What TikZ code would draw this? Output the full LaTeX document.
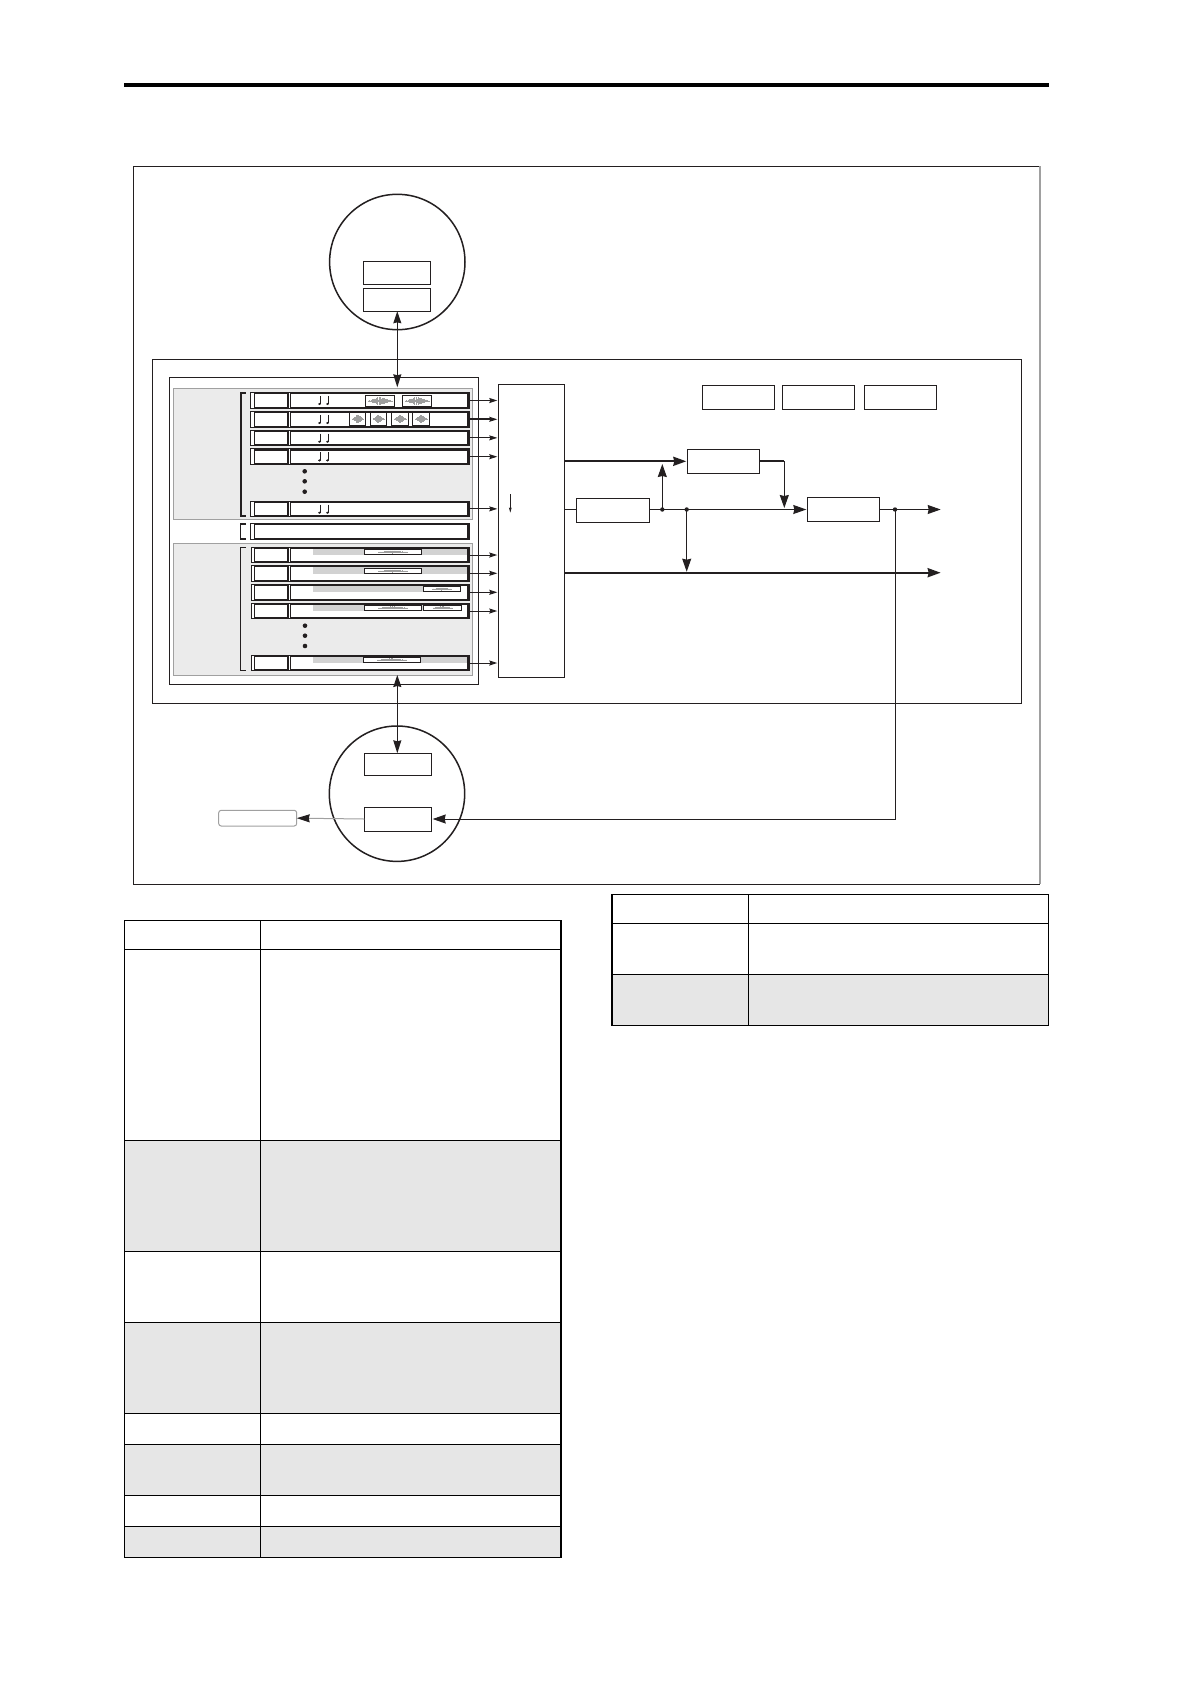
\documentclass[tikz,border=0pt]{standalone}
\usetikzlibrary{arrows.meta,calc}
\definecolor{ink}{HTML}{231F20}
\definecolor{panelfill}{HTML}{EBEBEB}
\definecolor{panelline}{HTML}{A0A0A0}
\definecolor{bandfill}{HTML}{D2D2D2}
\definecolor{rowfill}{HTML}{E6E6E6}
\newcommand\Bx[6]{%
  \pgfmathsetmacro\bw{#5-(#3)}\pgfmathsetmacro\bh{#6-(#4)}%
  \pgfmathsetmacro\bcx{(#3+#5)/2}\pgfmathsetmacro\bcy{(#4+#6)/2}%
  \node[#1,minimum width=\bw pt,minimum height=\bh pt] (#2) at (\bcx,\bcy) {};}
\newcommand\Wv[4]{%
  \draw[wavestroke] (#1-#3,#2) -- (#1+#3,#2);
  \foreach \i in {-16,...,16}{%
    \pgfmathsetmacro\ww{#4*(1-abs(\i)/17)*(0.35+0.65*abs(sin(\i*97+13)))}%
    \draw[wavestroke] (#1+\i*#3/16,#2-\ww) -- (#1+\i*#3/16,#2+\ww);}}
\newcommand\Nt[2]{%
  \draw[ink,line width=.8pt] (#1+1.4,#2+3.5) -- (#1+1.4,#2+11.5);
  \fill[ink] (#1+.2,#2+11.7) ellipse [x radius=1.5,y radius=1.1];}
\tikzset{
  boxbase/.style={rectangle,draw=ink,fill=white,inner sep=0pt,outer sep=0pt,line width=1pt},
  trkouter/.style={boxbase,line width=1pt},
  trkcell/.style={boxbase,line width=1.6pt},
  clipbox/.style={boxbase,line width=1pt},
  wavebox/.style={boxbase,line width=1pt},
  extbox/.style={boxbase,draw=panelline,rounded corners=2.5pt},
  panel/.style={draw=panelline,fill=panelfill,line width=1pt},
  frameline/.style={draw=ink,line width=1pt},
  wavestroke/.style={draw=black!38,line width=.5pt},
  thinline/.style={draw=ink,line width=1pt},
  thickline/.style={draw=ink,line width=2.2pt},
  smallarr/.style={thinline,-{Stealth[length=8pt,width=5pt,inset=1pt]},shorten >=1pt},
  bigarr/.style={thinline,-{Stealth[length=13pt,width=9pt,inset=1pt]},shorten >=1pt},
  bigarrthick/.style={thickline,-{Stealth[length=13pt,width=9pt,inset=1pt]},shorten >=1pt},
  dblarr/.style={thinline,{Stealth[length=12pt,width=8pt,inset=1pt]}-{Stealth[length=13pt,width=8pt,inset=1pt]}},
  junction/.style={circle,fill=ink,inner sep=0pt,minimum size=4.4pt},
  tdot/.style={circle,fill=ink,inner sep=0pt,minimum size=4.6pt},
  tabline/.style={draw=black,line width=1.2pt},
}
\begin{document}
\begin{tikzpicture}[x=1pt,y=-1pt]
\useasboundingbox (0,0) rectangle (1190,1684);
\fill[white] (0,0) rectangle (1190,1684);
% page rule
\fill[black] (124,83) rectangle (1049,87);
% outer frame
\draw[frameline] (1040,166.3) -- (133.3,166.3) -- (133.3,884.3) -- (1040,884.3);
\draw[panelline,line width=1.2pt] (1040,166.3) -- (1040,884.3);
% inner frame
\draw[frameline] (152.3,359.3) rectangle (1021,703.5);
\draw[frameline] (169.3,377.3) rectangle (478.3,684.3);
% panels
\draw[panel] (173.3,388.3) rectangle (472.7,519.3);
\draw[panel] (173.3,543.3) rectangle (472.7,675.7);
% brackets
\draw[ink,line width=2pt] (245.7,392.8) -- (240.5,392.8) -- (240.5,515.8) -- (245.7,515.8);
\draw[ink,line width=1.5pt] (246,524.2) -- (240.7,524.2) -- (240.7,538.8) -- (246,538.8);
\draw[ink,line width=1pt] (246,547.2) -- (240.7,547.2) -- (240.7,670.3) -- (246,670.3);
% upper tracks
\foreach \nm/\ya/\yb in {t1/392.3/408.7,t2/411.3/427.3,t3/430/445.7,t4/448.7/464.7,t5/501/516.7}{
  \Bx{trkouter}{\nm}{250.3}{\ya}{469.7}{\yb}
  \pgfmathsetmacro\yc{\ya+1}\pgfmathsetmacro\yd{\yb-1}
  \Bx{trkcell}{\nm L}{254.3}{\yc}{288}{\yd}
  \Bx{trkcell}{\nm R}{290.3}{\yc}{467.7}{\yd}
  \Nt{319.3}{\ya}
  \Nt{327.3}{\ya}
}
% middle track
\Bx{trkouter}{tm}{250.3}{523.3}{469.7}{539.7}
\Bx{trkcell}{tmc}{254.3}{524.3}{467.7}{538.7}
% lower tracks
\foreach \nm/\ya/\yb/\bb/\be in {l1/547.3/562.7/555/466.7,l2/565.3/581.3/574/466.7,l3/584.3/600.3/592/423.3,l4/603.3/618.7/611/423.3,l5/655.3/670.7/663/466.7}{
  \Bx{trkouter}{\nm}{251.3}{\ya}{469.7}{\yb}
  \pgfmathsetmacro\yc{\ya+1}\pgfmathsetmacro\yd{\yb-1}
  \Bx{trkcell}{\nm L}{254.3}{\yc}{288}{\yd}
  \Bx{trkcell}{\nm R}{290.3}{\yc}{467.7}{\yd}
  \fill[bandfill] (313.3,\yc+.8) rectangle (\be,\bb);
}
% audio regions, upper
\foreach \nm/\xa/\xb in {w1/365.3/394.3,w2/402.3/431.7}{
  \Bx{wavebox}{\nm}{\xa}{395.3}{\xb}{406.7}
  \pgfmathsetmacro\wc{(\xa+\xb)/2}\pgfmathsetmacro\wh{(\xb-\xa)/2-2.5}
  \Wv{\wc}{401}{\wh}{4.4}
}
\foreach \nm/\xa/\xb in {w3/349.7/365.7,w4/370.3/386.3,w5/391.7/408.3,w6/412.7/429.3}{
  \Bx{wavebox}{\nm}{\xa}{412.7}{\xb}{425.3}
  \pgfmathsetmacro\wc{(\xa+\xb)/2}\pgfmathsetmacro\wh{(\xb-\xa)/2-2.5}
  \Wv{\wc}{419}{\wh}{4.4}
}
% audio regions, lower
\foreach \nm/\xa/\xb/\ya/\yb in {c1/364.3/421.7/549.3/554.7,c2/364.3/421.7/568.3/573.7,c3/423.3/460.3/586.7/591.3,c4/364.3/421.7/605.3/610.3,c5/423.3/461.7/605.3/610.3,c6/363.3/420.3/657.3/662.3}{
  \Bx{clipbox}{\nm}{\xa}{\ya}{\xb}{\yb}
  \pgfmathsetmacro\wc{(\xa+\xb)/2}\pgfmathsetmacro\wh{(\xb-\xa)/4}\pgfmathsetmacro\wy{(\ya+\yb)/2}
  \Wv{\wc}{\wy}{\wh}{1.6}
}
% dots
\foreach \nm/\dx/\dy in {d1/304.7/471.3,d2/304.7/481.3,d3/304.7/491.7,d4/305/625.7,d5/305/635.7,d6/305/646}{
  \node[tdot] (\nm) at (\dx,\dy) {};
}
% mixer
\Bx{boxbase}{mixer}{498.3}{384.3}{564.7}{677.3}
\coordinate (mixa) at (510.3,494);
\coordinate (mixb) at (510.3,512.7);
\draw[ink,line width=.8pt,-{Stealth[length=5pt,width=2.6pt,inset=.5pt]}] (mixa) -- (mixb);
% three top boxes
\Bx{boxbase}{ta}{702.3}{385.3}{774.7}{409.3}
\Bx{boxbase}{tb}{782.3}{385.3}{854.7}{409.3}
\Bx{boxbase}{tc}{864.3}{385.3}{936.7}{409.3}
% effects
\Bx{boxbase}{fx}{687.3}{449.3}{759.3}{473.3}
\Bx{boxbase}{ifx}{576.3}{498.3}{649.7}{522.7}
\Bx{boxbase}{mfx}{807.3}{497.3}{879.7}{521.7}
% circles
\node[circle,draw=ink,line width=1.5pt,fill=white,inner sep=0pt,minimum size=135.4pt] (cup) at (397.3,262) {};
\node[circle,draw=ink,line width=1.5pt,fill=white,inner sep=0pt,minimum size=135.4pt] (clow) at (397,793.7) {};
\Bx{boxbase}{ua}{363.3}{261.3}{430.7}{284.3}
\Bx{boxbase}{ub}{363.3}{288.3}{430.7}{311.3}
\Bx{boxbase}{lwa}{364.3}{753.3}{431.7}{775.7}
\Bx{boxbase}{lwb}{364.3}{807}{431.7}{831}
\Bx{extbox}{ext}{218.7}{810.3}{296.7}{826}
% track arrows
\foreach \nm in {t1,t3,t4,t5,l1,l2,l3,l4,l5}{
  \draw[smallarr] (\nm.east) -- (mixer.west |- \nm.east);
}
\draw[thickline,line width=2pt] (t2.east) -- ++(22,0);
\draw[smallarr] (t2.east) -- (mixer.west |- t2.east);
% signal coordinates
\coordinate (j1) at (662.3,509.5);
\coordinate (j2) at (686.7,509.5);
\coordinate (j3) at (895,509.5);
\coordinate (outa) at (941.7,509.5);
\coordinate (outb) at (941.7,572.7);
\coordinate (bend) at (784.3,461.3);
\coordinate (tjoin) at (662.3,463);
\coordinate (mjoin) at (784.3,509);
\coordinate (topin) at (397.3,387.3);
\coordinate (botin) at (397.3,675);
% connectors
\draw[bigarrthick] (mixer.east |- fx.west) -- (fx.west);
\draw[thickline] (fx.east) -- (bend);
\draw[bigarr] (bend) -- (mjoin);
\draw[thinline] (mixer.east |- j1) -- (ifx.west |- j1);
\draw[thinline] (ifx.east |- j1) -- (j1);
\draw[bigarr] (j1) -- (mfx.west |- j1);
\draw[bigarr] (j1) -- (tjoin);
\draw[bigarr] (j2) -- (j2 |- outb);
\draw[bigarrthick] (mixer.east |- outb) -- (outb);
\draw[thinline] (mfx.east |- j3) -- (j3);
\draw[bigarr] (j3) -- (outa);
\draw[bigarr] (j3) -- (j3 |- lwb.east) -- (lwb.east);
\draw[draw=panelline,line width=1pt,-{Stealth[length=13pt,width=8pt,inset=1pt,color=ink]}] (lwb.west) -- (ext.east);
\draw[dblarr] (ub.south -| topin) -- (topin);
\draw[dblarr] (botin) -- (lwa.north -| botin);
\node[junction] (jd1) at (j1) {};
\node[junction] (jd2) at (j2) {};
\node[junction] (jd3) at (j3) {};
% left table
\fill[rowfill] (124.7,1140.2) rectangle (561,1251.2);
\fill[rowfill] (124.7,1322.3) rectangle (561,1413.4);
\fill[rowfill] (124.7,1444.2) rectangle (561,1495.3);
\fill[rowfill] (124.7,1526.1) rectangle (561,1557.3);
\draw[tabline] (124.7,920.4) rectangle (561,1557.3);
\draw[tabline] (260.3,920.4) -- (260.3,1557.3);
\draw[draw=black,line width=2pt] (561,920) -- (561,1557.8);
\foreach \ry in {949.4,1140.2,1251.2,1322.3,1413.4,1444.2,1495.3,1526.1}{
  \draw[tabline] (124.7,\ry) -- (561,\ry);
}
% right table
\fill[rowfill] (611.7,974.3) rectangle (1048.3,1025.3);
\draw[tabline] (611.7,894.3) rectangle (1048.3,1025.3);
\draw[draw=black,line width=1.8pt] (611.7,894) -- (611.7,1025.8);
\draw[tabline] (748.3,894.3) -- (748.3,1025.3);
\draw[tabline] (611.7,923.3) -- (1048.3,923.3);
\draw[tabline] (611.7,974.3) -- (1048.3,974.3);
\end{tikzpicture}
\end{document}
